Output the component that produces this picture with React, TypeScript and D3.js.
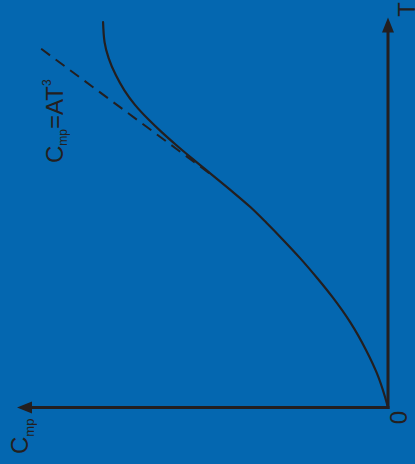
import React from 'react';
import * as d3 from 'd3';

// Heat capacity C_mp versus temperature T (arbitrary units, axis end = 100)
const tValues = [0, 2.7, 8.8, 14.7, 21.9, 28.1, 33.2, 38.3, 42.9, 47.3, 51.4, 55.8, 60.1, 64.0, 67.3, 70.6, 73.7, 77.6, 81.4, 85.3, 89.6, 93.7, 98.8];
const cValues = [0, 0.8, 3.0, 5.9, 10.2, 14.8, 19.1, 23.7, 28.2, 32.7, 37.1, 42.5, 48.0, 53.0, 57.1, 61.0, 64.4, 68.2, 71.1, 73.4, 75.3, 76.4, 76.8];

// Low-temperature asymptote C_mp = A·T³ (segment drawn near the tangent point)
const asymptoteT = [60.1, 92.2];
const asymptoteC = [48.2, 93.8];

const BG = '#0467b0';
const INK = '#231f20';
const FONT = '"Liberation Sans", Arial, Helvetica, sans-serif';

export default function App() {
  const width = 415;
  const height = 464;
  const originX = 388;
  const originY = 407.5;

  // Chart is drawn in its own frame (T to the right, C upward), then turned a quarter turn.
  const tScale = d3.scaleLinear().domain([0, 100]).range([0, 390]);
  const cScale = d3.scaleLinear().domain([0, 100]).range([0, -371]);

  const curvePts: [number, number][] = tValues.map((t, i) => [t, cValues[i]]);
  const asymPts: [number, number][] = asymptoteT.map((t, i) => [t, asymptoteC[i]]);

  const line = d3
    .line<[number, number]>()
    .x((d) => tScale(d[0]))
    .y((d) => cScale(d[1]))
    .curve(d3.curveMonotoneX);
  const straight = d3
    .line<[number, number]>()
    .x((d) => tScale(d[0]))
    .y((d) => cScale(d[1]));

  const tEnd = tScale(100);
  const cEnd = cScale(100);
  const arrowLen = 15;
  const arrowHalf = 6;

  return (
    <svg
      width={width}
      height={height}
      style={{ position: 'absolute', left: 0, top: 0, display: 'block' }}
    >
      <rect width={width} height={height} fill={BG} />
      <g transform={`translate(${originX},${originY}) rotate(-90)`}>
        {/* axes */}
        <line x1={0} y1={0} x2={tEnd - arrowLen + 2} y2={0} stroke={INK} strokeWidth={3} strokeLinecap="square" />
        <line x1={0} y1={0} x2={0} y2={cEnd + arrowLen - 2} stroke={INK} strokeWidth={3} strokeLinecap="square" />
        <polygon
          points={`${tEnd},0 ${tEnd - arrowLen},${-arrowHalf} ${tEnd - arrowLen},${arrowHalf}`}
          fill={INK}
        />
        <polygon
          points={`0,${cEnd} ${-arrowHalf},${cEnd + arrowLen} ${arrowHalf},${cEnd + arrowLen}`}
          fill={INK}
        />

        {/* asymptote */}
        <path d={straight(asymPts) ?? ''} fill="none" stroke={INK} strokeWidth={2} strokeDasharray="11 7" />

        {/* C_mp(T) */}
        <path d={line(curvePts) ?? ''} fill="none" stroke={INK} strokeWidth={2.2} strokeLinecap="round" />

        {/* labels */}
        <text x={tEnd + 8} y={26.5} fontFamily={FONT} fontSize={24} fill={INK} textAnchor="middle">
          T
        </text>
        <text x={-10} y={19} fontFamily={FONT} fontSize={24} fill={INK} textAnchor="middle">
          0
        </text>
        <text x={-46.5} y={cEnd + 11} fontFamily={FONT} fontSize={24} fill={INK}>
          C
          <tspan fontSize={13} dy={5.5}>mp</tspan>
        </text>
        <text x={244.5} y={-325} fontFamily={FONT} fontSize={24} fill={INK}>
          C
          <tspan fontSize={12} dy={4}>mp</tspan>
          <tspan dy={-4}>=AT</tspan>
          <tspan fontSize={12} dy={-12}>3</tspan>
        </text>
      </g>
    </svg>
  );
}
